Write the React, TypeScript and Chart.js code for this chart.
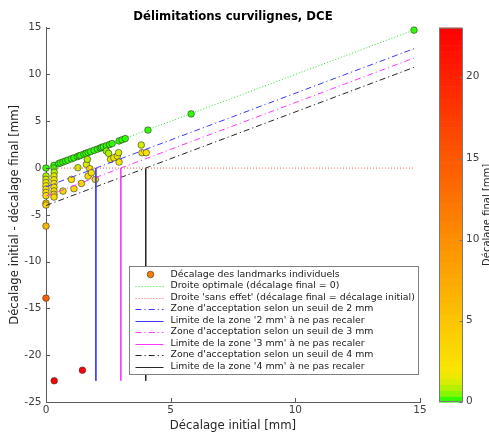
import { useEffect, useRef } from 'react';
import { Chart, registerables } from 'chart.js';

Chart.register(...registerables);

const FONT = '"DejaVu Sans", "Liberation Sans", sans-serif';

const TITLE = 'Délimitations curvilignes, DCE';
const X_LABEL = 'Décalage initial [mm]';
const Y_LABEL = 'Décalage initial - décalage final [mm]';
const CB_LABEL = 'Décalage final [mm]';

// x: initial offset [mm]
const initialOffset = [
  // near-optimal chain (final ~ 0)
  0.32, 0.51, 0.58, 0.68, 0.78, 0.88, 1.02, 1.12, 1.26, 1.33, 1.39, 1.52, 1.6, 1.69, 1.79, 1.93, 2.06, 2.17,
  2.23, 2.3, 2.42, 2.55, 2.65, 2.93, 3.05, 3.18, 4.09, 5.82, 14.76,
  // column near x = 0.32
  0.32, 0.33, 0.32, 0.32, 0.32, 0.32, 0.32, 0.32, 0.32,
  // column at x = 0
  0, 0, 0, 0, 0, 0, 0, 0, 0, 0, 0, 0,
  // scattered
  0.68, 1.02, 1.12, 1.28, 1.42, 1.62, 1.66, 1.69, 1.76, 1.82, 1.98, 2.42, 2.51, 2.59, 2.72, 2.86, 2.91, 2.93,
  3.82, 3.85, 4.02,
  // large final offsets
  0.33, 1.46,
];

// y: initial offset - final offset [mm]
const offsetReduction = [
  0.29, 0.48, 0.55, 0.65, 0.75, 0.85, 0.99, 1.09, 1.23, 1.3, 1.36, 1.49, 1.57, 1.66, 1.76, 1.9, 2.02, 2.13,
  2.2, 2.27, 2.38, 2.52, 2.62, 2.9, 3.02, 3.15, 4.06, 5.79, 14.74,
  0.0, -0.45, -0.85, -1.25, -1.65, -2.05, -2.45, -2.8, -3.1,
  0, -0.85, -1.2, -1.55, -1.9, -2.25, -2.6, -2.95, -3.75, -3.95, -6.2, -13.9,
  -2.46, -1.21, -2.21, 0.04, -1.64, 0.39, 0.93, -0.86, -0.07, -0.5, -1.21, 1.82, 1.57, 0.93, 1.1, 1.28, 1.64, 0.64,
  2.46, 1.64, 1.64,
  -22.73, -21.6,
];

const thresholds = [2, 3, 4];
const thresholdColors = ['#3a3aff', '#ff3aff', '#262626'];

const xTickStep = 5;
const yTickStep = 5;
const cbTickStep = 5;
const X_MIN = 0;
const X_MAX = 15;
const Y_MIN = -25;
const Y_MAX = 15;

const finalOffset = initialOffset.map((x, i) => x - offsetReduction[i]);
const CB_MAX = Math.max(...finalOffset);
const MAX_X = Math.max(...initialOffset);
const MIN_Y = Math.min(...offsetReduction);

const N_LEVELS = 64;
const CMAP_STOPS: [number, number, number][] = [
  [0, 0, 255],
  [0.4, 110, 248],
  [0.8, 170, 242],
  [1.2, 210, 237],
  [1.6, 235, 233],
  [2.0, 250, 230],
  [23, 255, 0],
];
function cmapRaw(v: number): string {
  const s = CMAP_STOPS;
  let r = s[s.length - 1][1];
  let g = s[s.length - 1][2];
  for (let i = 0; i < s.length - 1; i++) {
    if (v >= s[i][0] && v <= s[i + 1][0]) {
      const t = (v - s[i][0]) / (s[i + 1][0] - s[i][0]);
      r = s[i][1] + t * (s[i + 1][1] - s[i][1]);
      g = s[i][2] + t * (s[i + 1][2] - s[i][2]);
      break;
    }
  }
  return `rgb(${Math.round(r)},${Math.round(g)},0)`;
}
function levelColor(idx: number): string {
  return cmapRaw(((idx + 0.5) / N_LEVELS) * 23);
}
function valueColor(v: number): string {
  const idx = Math.max(0, Math.min(N_LEVELS - 1, Math.floor((v / CB_MAX) * N_LEVELS)));
  return levelColor(idx);
}

const AXIS_COLOR = '#5a5a5a';
const TICK_COLOR = '#404040';
const LABEL_COLOR = '#262626';
const DASH_DOT = [6, 3, 1.2, 3];
const TICK_FONT = `10.5px ${FONT}`;

const decorPlugin = {
  id: 'decor',
  afterDraw(chart: any) {
    const { ctx, chartArea: ca, scales } = chart;
    const xs = scales.x;
    const ys = scales.y;
    const cb = scales.cb;
    ctx.save();
    // inward tick marks
    ctx.strokeStyle = AXIS_COLOR;
    ctx.lineWidth = 1;
    ctx.setLineDash([]);
    ys.ticks.forEach((_t: any, i: number) => {
      const py = Math.round(ys.getPixelForTick(i)) + 0.5;
      ctx.beginPath();
      ctx.moveTo(ca.left, py);
      ctx.lineTo(ca.left + 4, py);
      ctx.stroke();
    });
    xs.ticks.forEach((_t: any, i: number) => {
      const px = Math.round(xs.getPixelForTick(i)) + 0.5;
      ctx.beginPath();
      ctx.moveTo(px, ca.bottom);
      ctx.lineTo(px, ca.bottom - 4);
      ctx.stroke();
    });

    // colour bar
    const barL = ca.right + 19;
    const barR = ca.right + 42;
    for (let i = 0; i < N_LEVELS; i++) {
      const v0 = (i / N_LEVELS) * CB_MAX;
      const v1 = ((i + 1) / N_LEVELS) * CB_MAX;
      const p0 = cb.getPixelForValue(v0);
      const p1 = cb.getPixelForValue(v1);
      ctx.fillStyle = levelColor(i);
      ctx.fillRect(barL, p1, barR - barL, p0 - p1 + 0.6);
    }
    ctx.strokeStyle = '#7a7a7a';
    ctx.lineWidth = 1;
    ctx.strokeRect(barL + 0.5, cb.top + 0.5, barR - barL, cb.bottom - cb.top - 1);
    ctx.font = TICK_FONT;
    ctx.textAlign = 'left';
    ctx.textBaseline = 'middle';
    cb.ticks.forEach((t: any, i: number) => {
      const py = Math.round(cb.getPixelForTick(i)) + 0.5;
      ctx.strokeStyle = '#7a7a7a';
      ctx.beginPath();
      ctx.moveTo(barR + 0.5, py);
      ctx.lineTo(barR - 2.5, py);
      ctx.stroke();
      ctx.fillStyle = TICK_COLOR;
      ctx.fillText(String(t.value), barR + 4, py - 1);
    });
    // colour bar label
    ctx.save();
    ctx.translate(ca.right + 67, (cb.top + cb.bottom) / 2);
    ctx.rotate(-Math.PI / 2);
    ctx.font = `10px ${FONT}`;
    ctx.fillStyle = LABEL_COLOR;
    ctx.textAlign = 'center';
    ctx.textBaseline = 'middle';
    ctx.fillText(CB_LABEL, 0, 0);
    ctx.restore();

    // legend (built from the datasets)
    const W = 289;
    const H = 108;
    const right = ca.right - 2.5;
    const bottom = ca.bottom - 28;
    const left = right - W;
    const top = bottom - H;
    ctx.fillStyle = '#ffffff';
    ctx.fillRect(left, top, W, H);
    ctx.strokeStyle = '#808080';
    ctx.lineWidth = 1;
    ctx.strokeRect(Math.round(left) + 0.5, Math.round(top) + 0.5, W, H);
    ctx.font = `9.4px ${FONT}`;
    ctx.textAlign = 'left';
    ctx.textBaseline = 'middle';
    chart.data.datasets.forEach((ds: any, i: number) => {
      const y = top + 8.5 + i * 11.5;
      if (ds.legendMarker) {
        ctx.setLineDash([]);
        ctx.beginPath();
        ctx.arc(left + 22, y, 3.3, 0, Math.PI * 2);
        ctx.fillStyle = ds.legendMarker;
        ctx.fill();
        ctx.strokeStyle = '#303030';
        ctx.lineWidth = 0.6;
        ctx.stroke();
      } else {
        ctx.setLineDash(ds.borderDash || []);
        ctx.strokeStyle = ds.borderColor;
        ctx.lineWidth = 1;
        ctx.beginPath();
        ctx.moveTo(left + 7, Math.round(y) + 0.5);
        ctx.lineTo(left + 35, Math.round(y) + 0.5);
        ctx.stroke();
      }
      ctx.setLineDash([]);
      ctx.fillStyle = '#1a1a1a';
      ctx.fillText(ds.label, left + 42, y);
    });
    ctx.restore();
  },
};

export default function App() {
  const ref = useRef<HTMLCanvasElement | null>(null);
  useEffect(() => {
    if (!ref.current) return;
    const points = initialOffset.map((x, i) => ({ x, y: offsetReduction[i] }));
    const lineDs = (label: string, data: any[], color: string, dash: number[]) => ({
      type: 'scatter',
      label,
      data,
      showLine: true,
      borderColor: color,
      backgroundColor: color,
      borderWidth: 1,
      borderDash: dash,
      pointRadius: 0,
      order: 1,
    });
    const datasets: any[] = [
      {
        type: 'scatter',
        label: 'Décalage des landmarks individuels',
        data: points,
        pointBackgroundColor: finalOffset.map(valueColor),
        pointBorderColor: '#303030',
        pointBorderWidth: 0.6,
        pointRadius: 3.3,
        legendMarker: valueColor(CB_MAX / 2),
        clip: false,
        order: 2,
      },
      lineDs('Droite optimale (décalage final = 0)', [{ x: 0, y: 0 }, { x: MAX_X, y: MAX_X }], 'rgb(40,225,40)', [1, 2]),
      lineDs("Droite 'sans effet' (décalage final = décalage initial)", [{ x: 0, y: 0 }, { x: MAX_X, y: 0 }], 'rgb(255,95,95)', [1, 2]),
    ];
    thresholds.forEach((t, k) => {
      datasets.push(
        lineDs(`Zone d'acceptation selon un seuil de ${t} mm`, [{ x: 0, y: -t }, { x: MAX_X, y: MAX_X - t }], thresholdColors[k], DASH_DOT)
      );
      datasets.push(
        lineDs(`Limite de la zone '${t} mm' à ne pas recaler`, [{ x: t, y: 0 }, { x: t, y: MIN_Y }], thresholdColors[k], [])
      );
    });

    const chart = new Chart(ref.current, {
      type: 'scatter',
      data: { datasets },
      options: {
        animation: false,
        responsive: false,
        maintainAspectRatio: false,
        devicePixelRatio: 1,
        layout: { padding: 0 },
        plugins: {
          legend: { display: false },
          tooltip: { enabled: false },
          title: {
            display: true,
            text: TITLE,
            fullSize: false,
            color: '#000',
            font: { family: FONT, size: 11.7, weight: 'bold', lineHeight: 1 },
            padding: { top: 11.5, bottom: 4.5 },
          },
        },
        scales: {
          x: {
            type: 'linear',
            position: 'bottom',
            min: X_MIN,
            max: X_MAX,
            ticks: { stepSize: xTickStep, padding: 1.5, color: TICK_COLOR, font: { family: FONT, size: 10.5 }, maxRotation: 0, includeBounds: false },
            grid: { display: false, drawTicks: false, tickLength: 0 },
            border: { display: true, color: AXIS_COLOR, width: 1 },
            title: { display: true, text: X_LABEL, color: LABEL_COLOR, font: { family: FONT, size: 11.7 }, padding: { top: 0, bottom: 1.5 } },
            afterFit: (s: any) => { s.height = 32; },
          },
          y: {
            type: 'linear',
            position: 'left',
            min: Y_MIN,
            max: Y_MAX,
            ticks: { stepSize: yTickStep, padding: 4.5, color: TICK_COLOR, font: { family: FONT, size: 10.5 }, includeBounds: false },
            grid: { display: false, drawTicks: false, tickLength: 0 },
            border: { display: true, color: AXIS_COLOR, width: 1 },
            title: { display: true, text: Y_LABEL, color: LABEL_COLOR, font: { family: FONT, size: 11.7 }, padding: { top: 7.5, bottom: 0 } },
            afterFit: (s: any) => { s.width = 46; },
          },
          cb: {
            type: 'linear',
            position: 'right',
            min: 0,
            max: CB_MAX,
            ticks: { stepSize: cbTickStep, padding: 0, display: false, includeBounds: false },
            grid: { display: false },
            border: { display: false },
            afterFit: (s: any) => { s.width = 69; },
          },
        },
      } as any,
      plugins: [decorPlugin],
    });
    return () => chart.destroy();
  }, []);

  return (
    <div style={{ position: 'fixed', left: 0, top: 0, width: 489, height: 434, background: '#fff' }}>
      <canvas ref={ref} width={489} height={434} style={{ display: 'block' }} />
    </div>
  );
}
